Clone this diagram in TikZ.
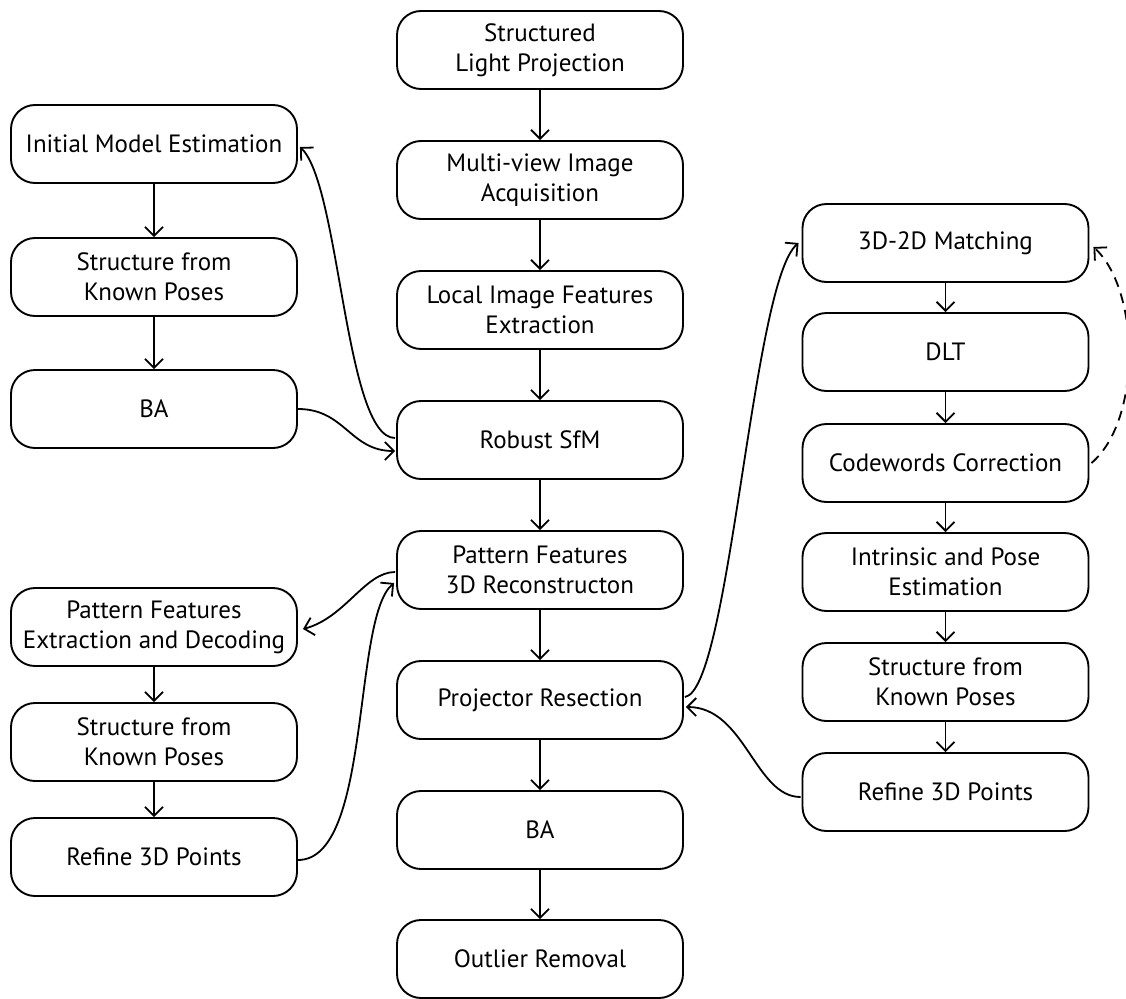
\documentclass[tikz,border=0pt]{standalone}
\usepackage{fontspec}
\setmainfont{PT Sans}
\usetikzlibrary{arrows.meta,calc}
\begin{document}
\begin{tikzpicture}[x=1pt,y=-1pt,
  box/.style={draw, line width=1.9pt, rounded corners=24pt, minimum width=286pt, minimum height=78pt, inner sep=0pt, align=center, font=\fontsize{25}{30}\selectfont},
  arr/.style={line width=1.8pt, -{Straight Barb[length=9pt,width=18pt,line width=1.8pt]}},
  dsh/.style={arr, dash pattern=on 10pt off 7pt}]
\useasboundingbox (0,0) rectangle (1126,998);
% center column
\node[box] (c1) at (540,50) {Structured\\Light Projection};
\node[box] (c2) at (540,180) {Multi-view Image\\Acquisition};
\node[box] (c3) at (540,310) {Local Image Features\\Extraction};
\node[box] (c4) at (540,440) {Robust SfM};
\node[box] (c5) at (540,570) {Pattern Features\\3D Reconstructon};
\node[box] (c6) at (540,700) {Projector Resection};
\node[box] (c7) at (540,830) {BA};
\node[box] (c8) at (540,959) {Outlier Removal};
% left column
\node[box] (l1) at (154,144) {Initial Model Estimation};
\node[box] (l2) at (154,277) {Structure from\\Known Poses};
\node[box] (l3) at (154,409) {BA};
\node[box] (l4) at (154,627) {Pattern Features\\Extraction and Decoding};
\node[box] (l5) at (154,742) {Structure from\\Known Poses};
\node[box] (l6) at (154,857) {Refine 3D Points};
% right column
\node[box] (r1) at (945.5,243) {3D-2D Matching};
\node[box] (r2) at (945.5,352) {DLT};
\node[box] (r3) at (945.5,463) {Codewords Correction};
\node[box] (r4) at (945.5,572) {Intrinsic and Pose\\Estimation};
\node[box] (r5) at (945.5,682) {Structure from\\Known Poses};
\node[box] (r6) at (945.5,792) {Refine 3D Points};
% straight arrows
\foreach \a/\b in {c1/c2,c2/c3,c3/c4,c4/c5,c5/c6,c6/c7,c7/c8,l1/l2,l2/l3,l4/l5,l5/l6,r1/r2,r2/r3,r3/r4,r4/r5,r5/r6}
  \draw[arr] (\a.south) -- (\b.north);
% curved arrows
\draw[arr] (l3.east) .. controls (345,409) and (350,451) .. ($(c4.west)+(-1,11)$);
\draw[arr] ($(c4.west)+(-1,-2)$) .. controls (345,438) and (340,185) .. ($(l1.east)+(2,3)$);
\draw[arr] ($(c5.west)+(-1,2)$) .. controls (365,572) and (345,618) .. ($(l4.east)+(5,2)$);
\draw[arr] ($(l6.east)+(0,3)$) .. controls (372,860) and (352,618) .. ($(c5.west)+(-2,13)$);
\draw[arr] ($(c6.east)+(1,-3)$) .. controls (730,690) and (752,282) .. ($(r1.west)+(-3,0)$);
\draw[arr] ($(r6.west)+(-1,5)$) .. controls (755,797) and (745,707) .. ($(c6.east)+(2,7)$);
\draw[dsh] ($(r3.east)+(2,0)$) .. controls (1142,420) and (1140,290) .. ($(r1.east)+(4,4)$);
\end{tikzpicture}
\end{document}
